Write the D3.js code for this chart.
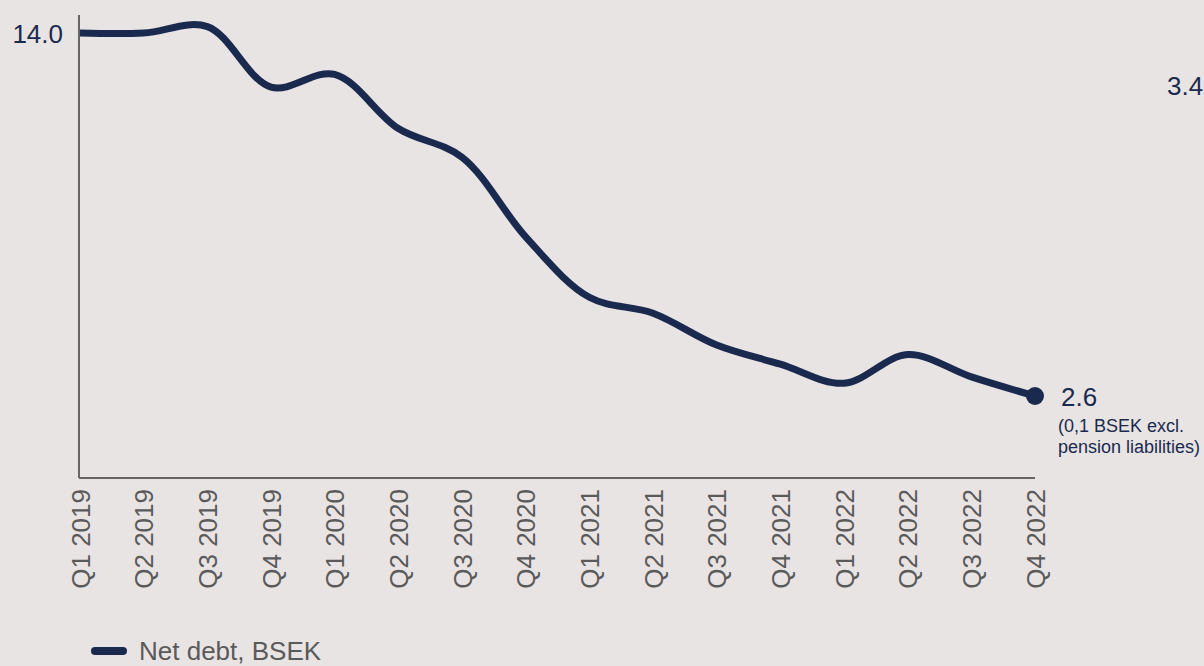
<!DOCTYPE html>
<html><head><meta charset="utf-8">
<script src="https://cdn.jsdelivr.net/npm/d3@7/dist/d3.min.js"></script>
<style>
html,body{margin:0;padding:0;background:#e9e4e4;}
svg{display:block;font-family:"Liberation Sans",Arial,sans-serif;}
</style></head><body>
<svg id="c" width="1204" height="666"></svg>
<script>
const categories = ["Q1 2019","Q2 2019","Q3 2019","Q4 2019","Q1 2020","Q2 2020","Q3 2020","Q4 2020","Q1 2021","Q2 2021","Q3 2021","Q4 2021","Q1 2022","Q2 2022","Q3 2022","Q4 2022"];
const netDebt = [14.0,14.0,14.2,12.3,12.7,11.0,10.1,7.6,5.7,5.2,4.2,3.6,3.0,3.9,3.2,2.6];
const seriesName = "Net debt, BSEK";
const startLabel = "14.0";
const endLabel = "2.6";
const endNote = ["(0,1 BSEK excl.","pension liabilities)"];
const sideLabel = "3.4";

const navy = "#1a2a4e", grey = "#5a5a5a";
const svg = d3.select("#c");
const x = d3.scalePoint().domain(categories).range([80, 1035]);
const y = d3.scaleLinear().domain([0, 14]).range([478.8, 33]);

// axes
svg.append("line").attr("x1",79).attr("x2",79).attr("y1",15).attr("y2",478).attr("stroke","#666").attr("stroke-width",2);
svg.append("line").attr("x1",79).attr("x2",1035).attr("y1",478).attr("y2",478).attr("stroke","#666").attr("stroke-width",2);

const xa = svg.append("g").attr("transform","translate(0,478)")
  .call(d3.axisBottom(x).tickSize(0).tickPadding(0));
xa.attr("font-size",26).attr("font-family","Liberation Sans, Arial, sans-serif");
xa.select(".domain").remove();
xa.selectAll("text")
  .attr("font-size",26).attr("fill",grey)
  .attr("text-anchor","end").attr("transform","rotate(-90)")
  .attr("x",-11).attr("y",0).attr("dy","0.35em");

// line
const line = d3.line().x((d,i)=>x(categories[i])).y(d=>y(d)).curve(d3.curveCatmullRom.alpha(0.5));
svg.append("path").datum(netDebt).attr("d",line).attr("fill","none")
  .attr("stroke",navy).attr("stroke-width",7).attr("stroke-linecap","butt");

const last = netDebt.length-1;
svg.append("circle").attr("cx",x(categories[last])).attr("cy",y(netDebt[last])).attr("r",9).attr("fill",navy);

svg.append("text").attr("x",63).attr("y",43).attr("text-anchor","end")
  .attr("font-size",26).attr("fill",navy).text(startLabel);
svg.append("text").attr("x",1061).attr("y",406)
  .attr("font-size",26).attr("fill",navy).text(endLabel);
endNote.forEach((t,i)=>svg.append("text").attr("x",1058).attr("y",432+i*21)
  .attr("font-size",18).attr("fill",navy).text(t));
svg.append("text").attr("x",1167).attr("y",95).attr("font-size",26).attr("fill",navy).text(sideLabel);

// legend
svg.append("line").attr("x1",95).attr("x2",123).attr("y1",651).attr("y2",651)
  .attr("stroke",navy).attr("stroke-width",8).attr("stroke-linecap","round");
svg.append("text").attr("x",139).attr("y",660).attr("font-size",26).attr("fill",grey).text(seriesName);
</script>
</body></html>
